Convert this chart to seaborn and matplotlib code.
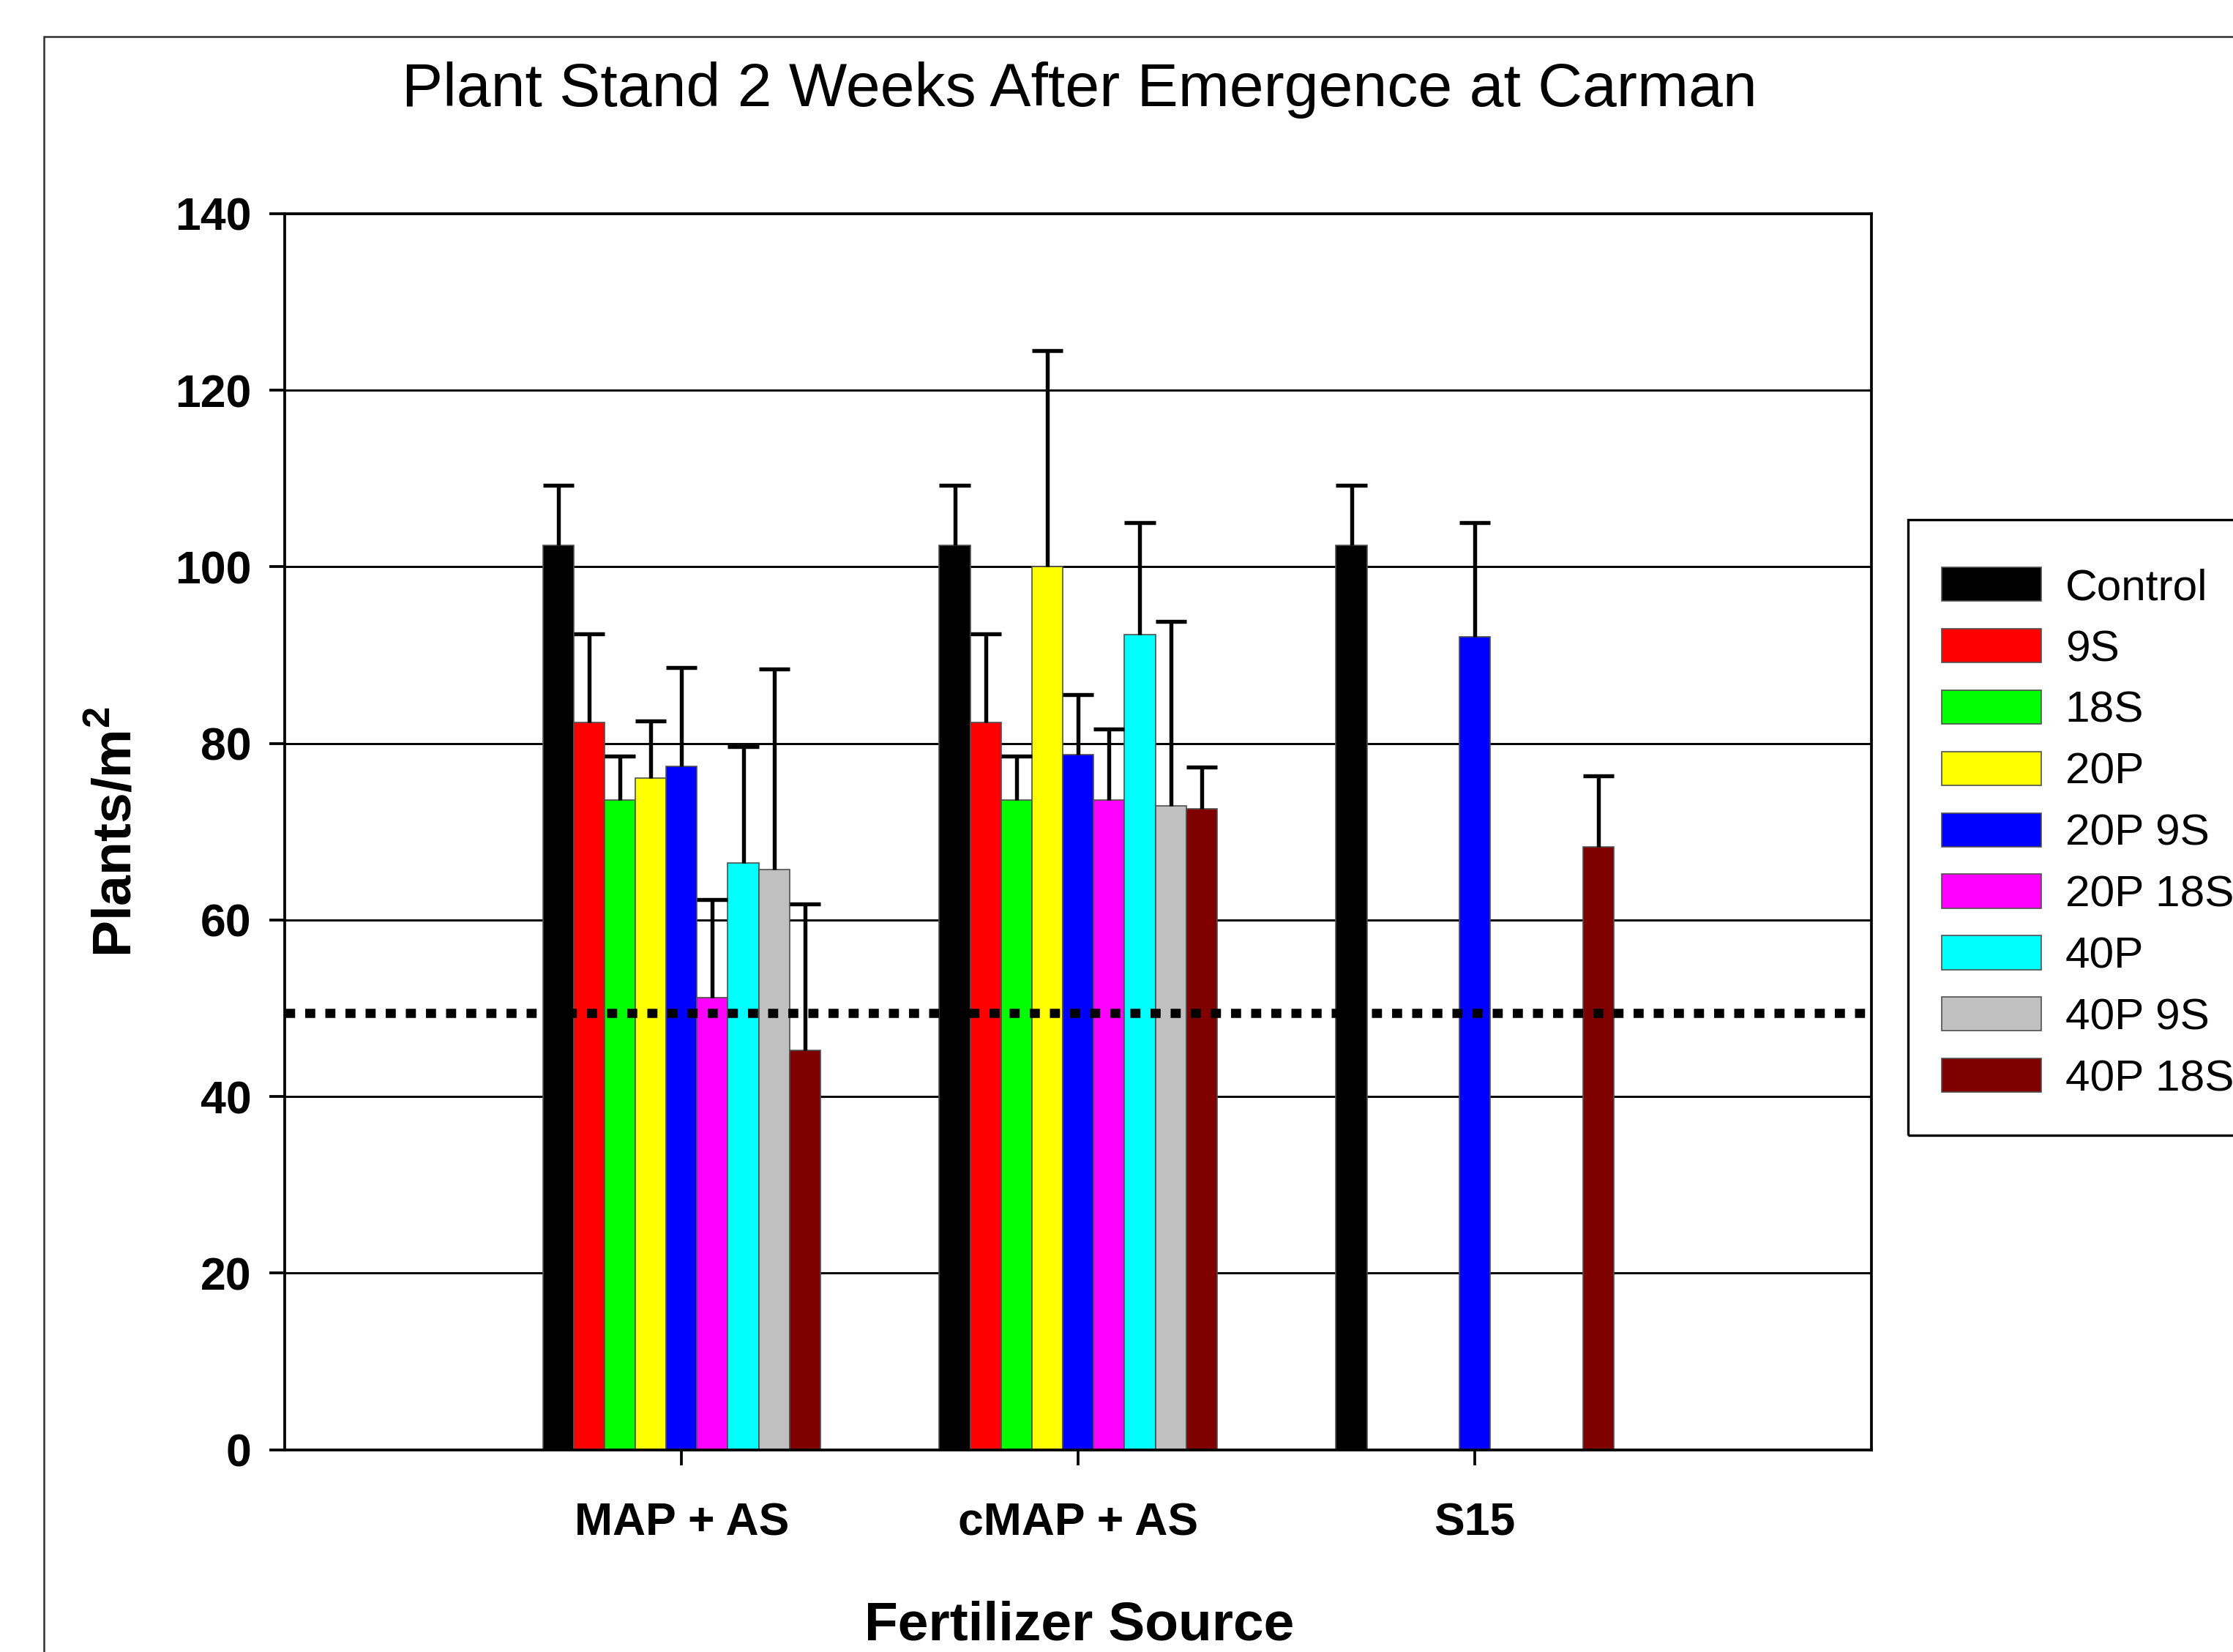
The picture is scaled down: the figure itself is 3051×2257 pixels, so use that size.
#!/usr/bin/env python3

import pandas as pd
import matplotlib
matplotlib.use('Agg')
import matplotlib.pyplot as plt
import seaborn as sns
from matplotlib.patches import Rectangle


#------------------------------------------------------------------------------------
# data (means and upward standard errors, plants/m2)
#------------------------------------------------------------------------------------
sources = ['MAP + AS', 'cMAP + AS', 'S15']
treatments = ['Control', '9S', '18S', '20P', '20P 9S', '20P 18S', '40P', '40P 9S', '40P 18S']
colors = ['#000000', '#FF0000', '#00FF00', '#FFFF00', '#0000FF',
          '#FF00FF', '#00FFFF', '#C0C0C0', '#800000']

map_as = [102.4, 82.4, 73.6, 76.1, 77.4, 51.2, 66.5, 65.7, 45.2]
map_as_se = [6.8, 10.0, 5.0, 6.4, 11.2, 11.1, 13.1, 22.7, 16.6]
cmap_as = [102.4, 82.4, 73.6, 100.0, 78.7, 73.6, 92.3, 72.9, 72.6]
cmap_as_se = [6.8, 10.0, 5.0, 24.5, 6.8, 8.0, 12.7, 20.9, 4.7]
# S15 was only tested with three treatments
s15_trt = ['Control', '20P 9S', '40P 18S']
s15 = [102.4, 92.1, 68.3]
s15_se = [6.8, 12.9, 8.0]

threshold = 49.5


rows = []
for t, v, e in zip(treatments, map_as, map_as_se):
    rows.append(('MAP + AS', t, v, e))
for t, v, e in zip(treatments, cmap_as, cmap_as_se):
    rows.append(('cMAP + AS', t, v, e))
for t, v, e in zip(s15_trt, s15, s15_se):
    rows.append(('S15', t, v, e))
df = pd.DataFrame(rows, columns=['Source', 'Treatment', 'Plants', 'SE'])

sns.set_style('ticks')
plt.rcParams['font.family'] = ['Liberation Sans', 'DejaVu Sans']
plt.rcParams['text.color'] = 'black'
plt.rcParams['axes.labelcolor'] = 'black'
plt.rcParams['mathtext.fontset'] = 'custom'
plt.rcParams['mathtext.bf'] = 'Liberation Sans:bold'
plt.rcParams['mathtext.rm'] = 'Liberation Sans'

fig = plt.figure(figsize=(3051 / 300, 2257 / 300), dpi=300)
ax = fig.add_axes([0.1276, 0.1224, 0.7105, 0.7483])

sns.barplot(data=df, x='Source', y='Plants', hue='Treatment',
            order=sources, hue_order=treatments, palette=colors,
            width=0.7, errorbar=None, saturation=1,
            edgecolor='#505050', linewidth=0.4, zorder=2, ax=ax)

# one-sided error bars on top of each bar
se_lookup = {(s, t): e for s, t, e in zip(df['Source'], df['Treatment'], df['SE'])}
for trt, cont in zip(treatments, ax.containers):
    for bar in cont:
        xc = bar.get_x() + bar.get_width() / 2
        src = sources[int(round(xc))]
        h = bar.get_height()
        top = h + se_lookup[(src, trt)]
        ax.vlines(xc, h, top, color='black', lw=1.3, zorder=3)
        ax.hlines(top, bar.get_x(), bar.get_x() + bar.get_width(),
                  color='black', lw=1.3, zorder=3)

ax.axhline(threshold, color='black', lw=3, linestyle=(0, (1.1, 1.1)), zorder=4)

ax.set_xlim(-1, 3)
ax.set_ylim(0, 140)
ax.set_yticks(range(0, 141, 20))
ax.set_axisbelow(True)
ax.yaxis.grid(True, color='black', lw=0.7)
ax.xaxis.grid(False)
for s in ax.spines.values():
    s.set_visible(True)
    s.set_color('black')
    s.set_linewidth(0.9)

ax.tick_params(axis='both', direction='out', length=5, width=0.9,
               labelsize=15, colors='black')
ax.tick_params(axis='x', pad=12)
ax.tick_params(axis='y', pad=6)
for lbl in ax.get_xticklabels() + ax.get_yticklabels():
    lbl.set_fontweight('bold')

ax.set_ylabel('Plants/m$^\\mathbf{2}$', fontsize=18, fontweight='bold')
ax.yaxis.set_label_coords(-0.0898, 0.5)
ax.set_xlabel('Fertilizer Source', fontsize=18, fontweight='bold')
ax.xaxis.set_label_coords(0.4834, 0.0075, transform=fig.transFigure)
ax.xaxis.label.set_va('baseline')

fig.text(0.4834, 0.9358, 'Plant Stand 2 Weeks After Emergence at Carman',
         ha='center', va='baseline', fontsize=20.2)

# legend box hangs off the right edge like in the original
leg_left, leg_top, leg_bottom = 0.8546, 0.6853, 0.3129
sns.move_legend(ax, 'upper left', bbox_to_anchor=(leg_left, leg_top - 0.0086),
                bbox_transform=fig.transFigure, title=None, frameon=False,
                fontsize=14.5, borderpad=0.75, labelspacing=0.46,
                handlelength=2.25, handleheight=0.8, handletextpad=0.55,
                borderaxespad=0)
fig.patches.append(Rectangle((leg_left, leg_bottom), 0.3, leg_top - leg_bottom,
                             transform=fig.transFigure, fill=False,
                             edgecolor='black', lw=0.8))

# outer frame of the original graphic (runs off the right and bottom)
fig.patches.append(Rectangle((0.0197, -0.05), 1.2, 1.028, transform=fig.transFigure,
                             fill=False, edgecolor='#303030', lw=0.6))

fig.savefig('out.png', dpi=300)
